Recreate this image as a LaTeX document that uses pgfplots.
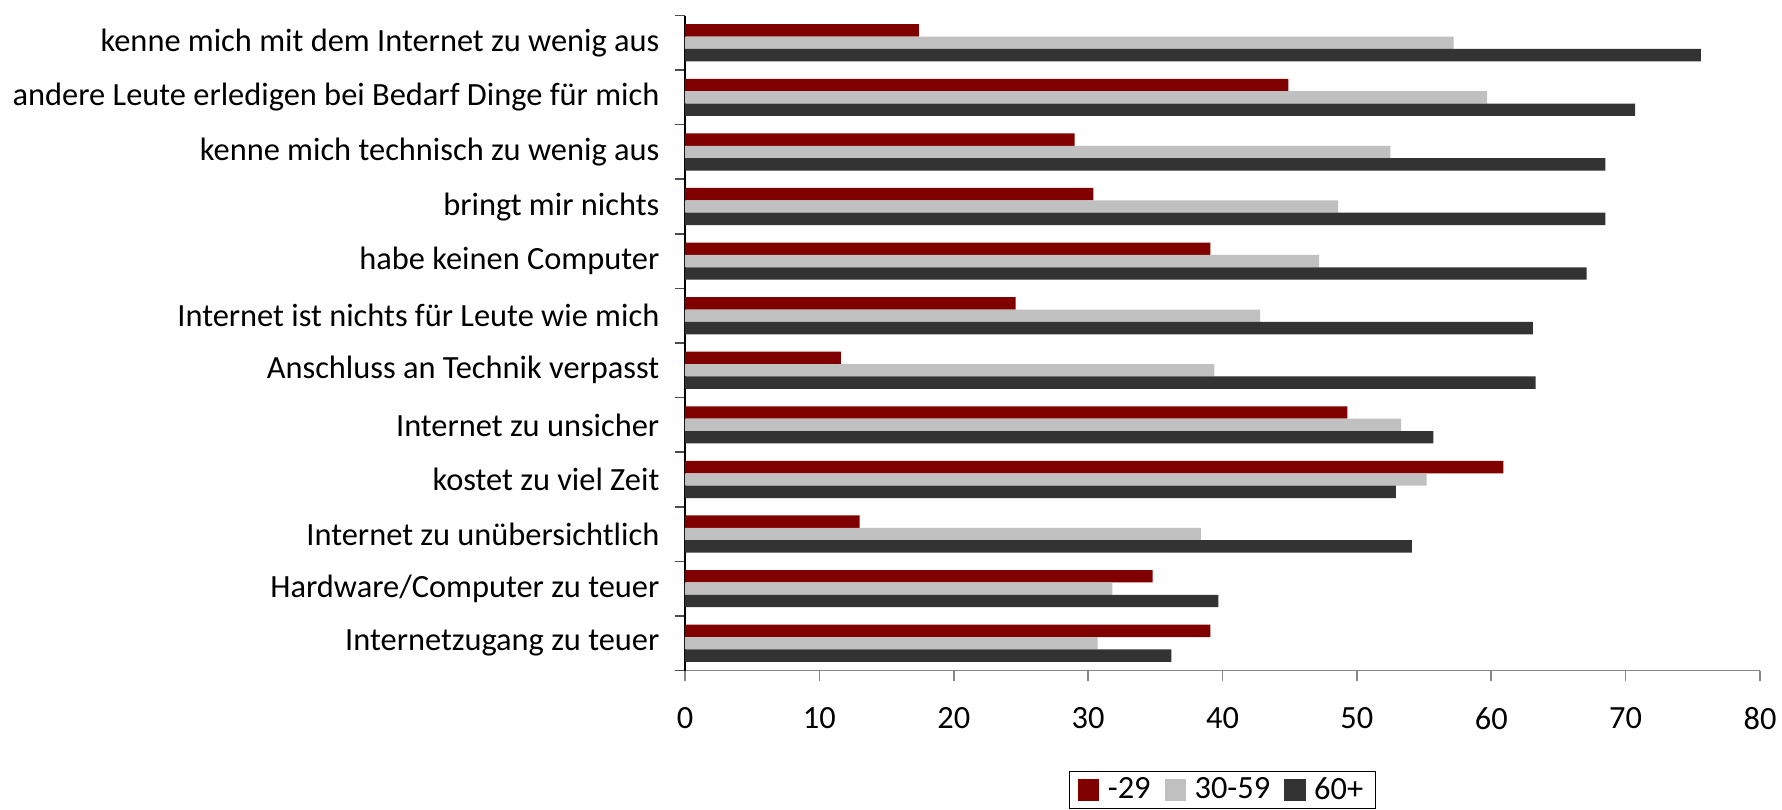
\documentclass[border=0pt]{standalone}
\usepackage{fontspec}
\setmainfont{Carlito}
\usepackage{pgfplots}
\pgfplotsset{compat=1.18}

\definecolor{young}{HTML}{800000}
\definecolor{middle}{HTML}{C0C0C0}
\definecolor{old}{HTML}{333333}
\definecolor{axisgray}{HTML}{868686}

\newcommand{\labelfont}{\fontsize{16.2bp}{19.5bp}\selectfont}

% Gründe gegen die Internetnutzung, nach Altersgruppe (Angaben in %)
\pgfplotstableread{
idx young middle old
0  17.4 57.2 75.6
1  44.9 59.7 70.7
2  29.0 52.5 68.5
3  30.4 48.6 68.5
4  39.1 47.2 67.1
5  24.6 42.8 63.1
6  11.6 39.4 63.3
7  49.3 53.3 55.7
8  60.9 55.2 52.9
9  13.0 38.4 54.1
10 34.8 31.8 39.7
11 39.1 30.7 36.2
}\reasons

\begin{document}
\begin{tikzpicture}
\begin{axis}[
  scale only axis,
  width=537.5bp, height=327.5bp,
  xbar=0pt, bar width=6.2bp,
  y dir=reverse,
  xmin=0, xmax=80, ymin=-0.5, ymax=11.5,
  axis x line*=bottom, axis y line*=left,
  x axis line style={axisgray, line width=0.8bp, -},
  y axis line style={black, line width=0.6bp, -},
  tick align=outside,
  major tick length=5bp,
  xtick={0,10,...,80},
  x tick style={axisgray, line width=0.8bp},
  ytick={-0.5,0.5,...,11.5},
  yticklabel={\mbox{}},
  y tick style={black!70, line width=0.8bp},
  extra y ticks={0,...,11},
  extra y tick labels={
    kenne mich mit dem Internet zu wenig aus,
    andere Leute erledigen bei Bedarf Dinge für mich,
    kenne mich technisch zu wenig aus,
    bringt mir nichts,
    habe keinen Computer,
    Internet ist nichts für Leute wie mich,
    Anschluss an Technik verpasst,
    Internet zu unsicher,
    kostet zu viel Zeit,
    Internet zu unübersichtlich,
    Hardware/Computer zu teuer,
    Internetzugang zu teuer},
  extra y tick style={major tick length=0pt, tick style={draw=none}},
  /pgf/number format/assume math mode=true,
  ticklabel style={font=\labelfont},
  yticklabel style={xshift=-9.3bp},
  xticklabel style={yshift=-10bp},
  legend style={at={(axis description cs:0.5,-0.153)}, anchor=north,
    draw=black, line width=0.6bp, font=\labelfont,
    legend columns=-1,
    /tikz/every even column/.append style={column sep=5bp},
    inner xsep=4bp, inner ysep=1bp},
  legend image code/.code={%
    \path[#1,draw=none] (0bp,-5.4bp) rectangle (10.8bp,5.4bp);
    \path (13bp,0bp);},
]
\addplot[fill=young, draw=none, bar shift=6.2bp] table[x=young, y=idx] {\reasons};
\addplot[fill=middle, draw=none, bar shift=0bp] table[x=middle, y=idx] {\reasons};
\addplot[fill=old, draw=none, bar shift=-6.2bp] table[x=old, y=idx] {\reasons};
\legend{-29, 30-59, 60+}
\end{axis}
\pgfresetboundingbox
\path[use as bounding box] (-342.5bp,-69.75bp) rectangle (548.5bp,335.25bp);
\end{tikzpicture}
\end{document}
